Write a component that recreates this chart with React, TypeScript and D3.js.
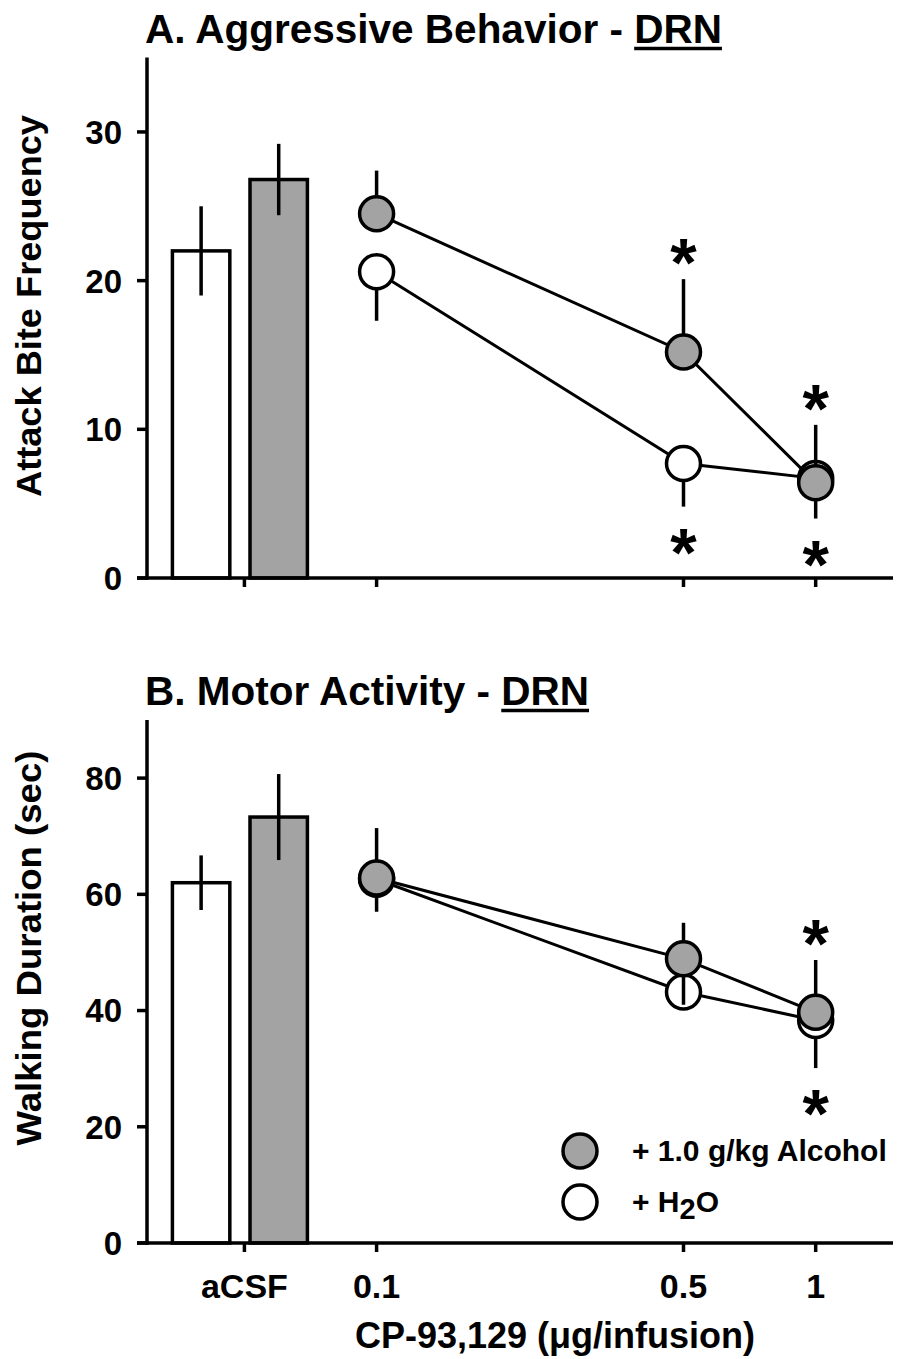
import React, { useLayoutEffect, useRef, useState } from "react";
import * as d3 from "d3";

// ---------------- data ----------------
const doses = [0.1, 0.5, 1];
const doseLabels = ["0.1", "0.5", "1"];
const vehicleLabel = "aCSF";
const vehiclePos = 0.05; // where aCSF sits on the log dose axis
const groups = ["H2O", "Alcohol"];

// Panel A: attack bite frequency
const biteBarMean = [22.0, 26.8];
const biteBarSem = [3.0, 2.4];
const biteAlcMean = [24.5, 15.2, 6.4];
const biteAlcErrUp = [2.9, 4.9, 3.9];
const biteAlcErrDown = [0, 0, 0];
const biteH2OMean = [20.6, 7.7, 6.7];
const biteH2OErrUp = [0, 0, 0];
const biteH2OErrDown = [3.3, 2.9, 2.7];
const biteAlcStars = [false, true, true];
const biteH2OStars = [false, true, true];
const biteTicks = [0, 10, 20, 30];

// Panel B: walking duration (sec)
const walkBarMean = [62.0, 73.3];
const walkBarSem = [4.7, 7.4];
const walkAlcMean = [62.8, 48.9, 39.7];
const walkAlcErrUp = [8.6, 6.2, 9.0];
const walkAlcErrDown = [0, 7.9, 0];
const walkH2OMean = [62.6, 43.2, 38.3];
const walkH2OErrUp = [0, 0, 0];
const walkH2OErrDown = [5.6, 2.4, 8.2];
const walkAlcStars = [false, false, true];
const walkH2OStars = [false, false, true];
const walkTicks = [0, 20, 40, 60, 80];

const legendLabels = ["+ 1.0 g/kg Alcohol", "+ H", "2", "O"];

// ---------------- style ----------------
const FONT = "'Liberation Sans', Arial, Helvetica, sans-serif";
const GRAY = "#a3a3a3";
const SW = 3.5;
const LW = 3;
const R = 17;

const xScale = d3.scaleLog().domain([0.03, 1.5]).range([147, 893]);
const AXIS_X = 147;

function Title({ x, y, prefix, under }: { x: number; y: number; prefix: string; under: string }) {
  const ref = useRef<SVGTextElement>(null);
  const [m, setM] = useState<[number, number] | null>(null);
  useLayoutEffect(() => {
    const t = ref.current;
    if (!t) return;
    const n = prefix.length;
    const start = t.getSubStringLength(0, n);
    const len = t.getSubStringLength(n, under.length);
    setM([start, len]);
  }, []);
  return (
    <g>
      <text ref={ref} x={x} y={y} fontSize={40.5} fontWeight="bold" fontFamily={FONT} fill="#000">
        {prefix + under}
      </text>
      {m && (
        <line x1={x + m[0]} x2={x + m[0] + m[1]} y1={y + 5.5} y2={y + 5.5} stroke="#000" strokeWidth={3.5} />
      )}
    </g>
  );
}

type PanelProps = {
  yMax: number;
  yBottom: number;
  yTop: number;
  ticks: number[];
  barMean: number[];
  barSem: number[];
  alcMean: number[];
  alcUp: number[];
  alcDown: number[];
  h2oMean: number[];
  h2oUp: number[];
  h2oDown: number[];
  alcStars: boolean[];
  h2oStars: boolean[];
  ylabel: string;
  ylabelCenter: number;
  ylabelLength: number;
  xLabels: boolean;
};

function Panel(p: PanelProps) {
  const y = d3.scaleLinear().domain([0, p.yMax]).range([p.yBottom, p.yTop]);
  const xa = xScale(vehiclePos);
  const band = d3.scaleBand<string>().domain(groups).range([xa - 72, xa + 63]).paddingInner(0.26);
  const line = d3
    .line<[number, number]>()
    .x((d) => xScale(d[0]))
    .y((d) => y(d[1]));
  const y0 = y(0);
  const starOff = 31;

  const errLines = (mean: number[], up: number[], down: number[], key: string) =>
    doses.map((d, i) => (
      <g key={key + i}>
        {up[i] > 0 && (
          <line x1={xScale(d)} x2={xScale(d)} y1={y(mean[i])} y2={y(mean[i] + up[i])} stroke="#000" strokeWidth={SW} />
        )}
        {down[i] > 0 && (
          <line x1={xScale(d)} x2={xScale(d)} y1={y(mean[i])} y2={y(mean[i] - down[i])} stroke="#000" strokeWidth={SW} />
        )}
      </g>
    ));

  const star = (cx: number, cy: number, key: string) => (
    <text key={key} x={cx} y={cy + 38} textAnchor="middle" fontSize={68} fontWeight="bold" fontFamily={FONT} fill="#000">
      *
    </text>
  );

  return (
    <g>
      {/* bars */}
      {groups.map((g, i) => (
        <g key={g}>
          <rect
            x={band(g)!}
            width={band.bandwidth()}
            y={y(p.barMean[i])}
            height={y0 - y(p.barMean[i])}
            fill={i === 0 ? "#fff" : GRAY}
            stroke="#000"
            strokeWidth={SW}
          />
          <line
            x1={band(g)! + band.bandwidth() / 2}
            x2={band(g)! + band.bandwidth() / 2}
            y1={y(p.barMean[i] - p.barSem[i])}
            y2={y(p.barMean[i] + p.barSem[i])}
            stroke="#000"
            strokeWidth={SW}
          />
        </g>
      ))}

      {/* H2O series */}
      {errLines(p.h2oMean, p.h2oUp, p.h2oDown, "he")}
      <path d={line(doses.map((d, i) => [d, p.h2oMean[i]]))!} fill="none" stroke="#000" strokeWidth={LW} />
      {doses.map((d, i) => (
        <circle key={"hc" + i} cx={xScale(d)} cy={y(p.h2oMean[i])} r={R} fill="#fff" stroke="#000" strokeWidth={SW} />
      ))}

      {/* Alcohol series */}
      {errLines(p.alcMean, p.alcUp, p.alcDown, "ae")}
      <path d={line(doses.map((d, i) => [d, p.alcMean[i]]))!} fill="none" stroke="#000" strokeWidth={LW} />
      {doses.map((d, i) => (
        <circle key={"ac" + i} cx={xScale(d)} cy={y(p.alcMean[i])} r={R} fill={GRAY} stroke="#000" strokeWidth={SW} />
      ))}

      {/* significance stars */}
      {doses.map((d, i) =>
        p.alcStars[i] ? star(xScale(d), y(p.alcMean[i] + p.alcUp[i]) - starOff, "as" + i) : null
      )}
      {doses.map((d, i) =>
        p.h2oStars[i] ? star(xScale(d), y(p.h2oMean[i] - p.h2oDown[i]) + starOff, "hs" + i) : null
      )}

      {/* axes */}
      <line x1={AXIS_X} x2={AXIS_X} y1={y(p.yMax)} y2={y0 + 1.75} stroke="#000" strokeWidth={SW} />
      <line x1={AXIS_X - 10} x2={893} y1={y0} y2={y0} stroke="#000" strokeWidth={SW} />
      {p.ticks.map((t) => (
        <g key={"yt" + t}>
          <line x1={AXIS_X - 10} x2={AXIS_X} y1={y(t)} y2={y(t)} stroke="#000" strokeWidth={SW} />
          <text
            x={AXIS_X - 25}
            y={y(t)}
            dy="0.36em"
            textAnchor="end"
            fontSize={33}
            fontWeight="bold"
            fontFamily={FONT}
            fill="#000"
          >
            {t}
          </text>
        </g>
      ))}
      {[vehiclePos, ...doses].map((d, i) => (
        <g key={"xt" + i}>
          <line x1={xScale(d)} x2={xScale(d)} y1={y0} y2={y0 + 9} stroke="#000" strokeWidth={SW} />
          {p.xLabels && (
            <text
              x={xScale(d)}
              y={y0 + 55}
              textAnchor="middle"
              fontSize={34}
              fontWeight="bold"
              fontFamily={FONT}
              fill="#000"
            >
              {i === 0 ? vehicleLabel : doseLabels[i - 1]}
            </text>
          )}
        </g>
      ))}
      <text
        transform={`translate(41, ${p.ylabelCenter}) rotate(-90)`}
        textAnchor="middle"
        fontSize={35}
        fontWeight="bold"
        fontFamily={FONT}
        fill="#000"
        textLength={p.ylabelLength}
        lengthAdjust="spacingAndGlyphs"
      >
        {p.ylabel}
      </text>
    </g>
  );
}

export default function App() {
  return (
    <svg width={900} height={1359} viewBox="0 0 900 1359" style={{ display: "block", position: "absolute", left: 0, top: 0, background: "#fff" }}>
      <rect x={0} y={0} width={900} height={1359} fill="#fff" />
      <Title x={145} y={43} prefix="A. Aggressive Behavior - " under="DRN" />
      <Panel
        yMax={35}
        yBottom={578}
        yTop={57.6}
        ticks={biteTicks}
        barMean={biteBarMean}
        barSem={biteBarSem}
        alcMean={biteAlcMean}
        alcUp={biteAlcErrUp}
        alcDown={biteAlcErrDown}
        h2oMean={biteH2OMean}
        h2oUp={biteH2OErrUp}
        h2oDown={biteH2OErrDown}
        alcStars={biteAlcStars}
        h2oStars={biteH2OStars}
        ylabel="Attack Bite Frequency"
        ylabelCenter={306}
        ylabelLength={382}
        xLabels={false}
      />
      <Title x={145} y={705} prefix="B. Motor Activity - " under="DRN" />
      <Panel
        yMax={90}
        yBottom={1243}
        yTop={720}
        ticks={walkTicks}
        barMean={walkBarMean}
        barSem={walkBarSem}
        alcMean={walkAlcMean}
        alcUp={walkAlcErrUp}
        alcDown={walkAlcErrDown}
        h2oMean={walkH2OMean}
        h2oUp={walkH2OErrUp}
        h2oDown={walkH2OErrDown}
        alcStars={walkAlcStars}
        h2oStars={walkH2OStars}
        ylabel="Walking Duration (sec)"
        ylabelCenter={948}
        ylabelLength={395}
        xLabels={true}
      />
      {/* legend */}
      <circle cx={580} cy={1151} r={R} fill={GRAY} stroke="#000" strokeWidth={SW} />
      <text x={632} y={1161} fontSize={30} fontWeight="bold" fontFamily={FONT} fill="#000">
        {legendLabels[0]}
      </text>
      <circle cx={580} cy={1202} r={R} fill="#fff" stroke="#000" strokeWidth={SW} />
      <text x={632} y={1212} fontSize={30} fontWeight="bold" fontFamily={FONT} fill="#000">
        {legendLabels[1]}
        <tspan dy={7} fontSize={29}>{legendLabels[2]}</tspan>
        <tspan dy={-7}>{legendLabels[3]}</tspan>
      </text>
      {/* x axis title */}
      <text x={555} y={1348} textAnchor="middle" fontSize={36} fontWeight="bold" fontFamily={FONT} fill="#000">
        CP-93,129 (μg/infusion)
      </text>
    </svg>
  );
}
